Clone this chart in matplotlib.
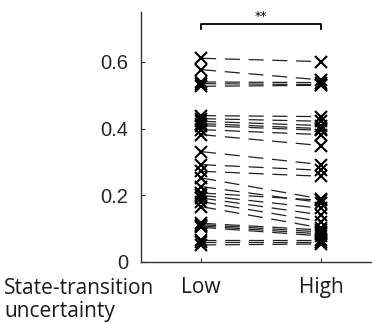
import numpy as np
import matplotlib
matplotlib.use('Agg')
from matplotlib import pyplot as plt

# per-subject values under each condition
conditions = ['Low', 'High']
low_vals = [0.611, 0.577, 0.540, 0.535, 0.527,
            0.439, 0.430, 0.422, 0.415, 0.409, 0.397, 0.382,
            0.331, 0.292, 0.272,
            0.252, 0.226, 0.207, 0.200, 0.192, 0.181, 0.166,
            0.116, 0.112, 0.108, 0.104,
            0.066, 0.060, 0.051]
high_vals = [0.601, 0.546, 0.538, 0.532, 0.530,
             0.436, 0.422, 0.409, 0.400, 0.395, 0.382, 0.349,
             0.292, 0.275, 0.257,
             0.189, 0.178, 0.185, 0.161, 0.141, 0.121, 0.102,
             0.096, 0.090, 0.084, 0.078,
             0.066, 0.060, 0.054]
y_ticks = [0, 0.2, 0.4, 0.6]
y_tick_labels = ['0', '0.2', '0.4', '0.6']
sig_label = '**'
x_title = 'State-transition\nuncertainty'

fig = plt.figure(figsize=(3.72, 3.23), dpi=100)
ax = fig.add_axes([0.379, 0.189, 0.621, 0.774])

xpos = [1, 2]
for lo, hi in zip(low_vals, high_vals):
    ax.plot(xpos, [lo, hi], color='#222222', lw=0.9, linestyle=(0, (12, 7)))
    ax.plot(xpos, [lo, hi], linestyle='none', marker='x', color='black',
            markersize=8.5, markeredgewidth=1.5)

# significance bracket
ax.plot([1, 1, 2, 2], [0.700, 0.714, 0.714, 0.700], color='black', lw=1.3,
        clip_on=False)
ax.text(1.5, 0.717, sig_label, ha='center', va='bottom', fontsize=9)

ax.set_xlim(0.5, 2.42)
ax.set_ylim(0, 0.75)
ax.set_xticks(xpos)
ax.set_xticklabels(conditions, family='Open Sans', fontsize=15,
                   color='#1a1a1a')
ax.set_yticks(y_ticks)
ax.set_yticklabels(y_tick_labels, family='Liberation Sans', fontsize=14.5,
                   color='#262626')
ax.tick_params(direction='in', length=3, width=0.8, color='#333333')
ax.tick_params(axis='x', pad=11)
ax.tick_params(axis='y', pad=9)
for s in ['top', 'right']:
    ax.spines[s].set_visible(False)
for s in ['left', 'bottom']:
    ax.spines[s].set_color('#333333')
    ax.spines[s].set_linewidth(1.0)

fig.text(0.011, 0.071, x_title, family='Open Sans', fontsize=15, ha='left',
         va='center', linespacing=1.15, color='#1a1a1a')

fig.savefig('out.png', dpi=100)
